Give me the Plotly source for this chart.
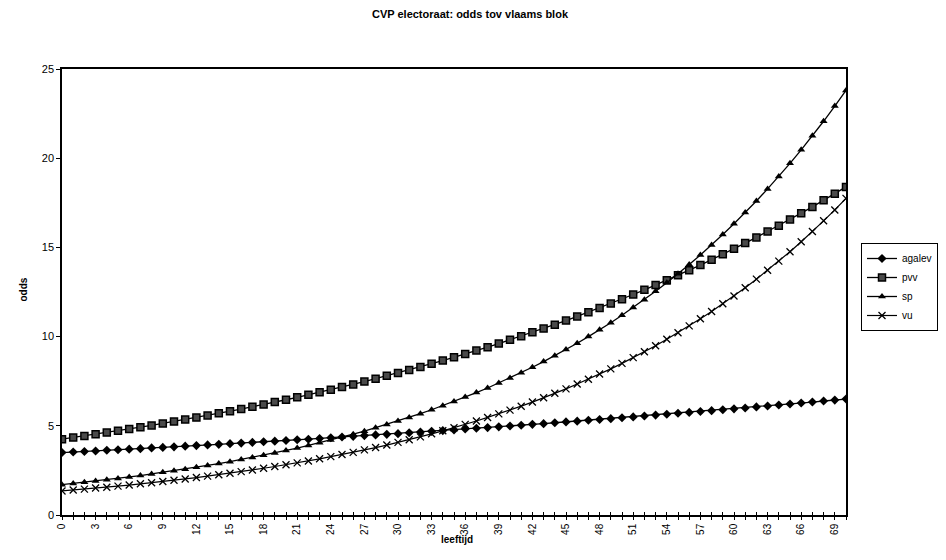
import plotly.graph_objects as go

leeftijd = list(range(0, 71))

agalev = [3.50, 3.53, 3.56, 3.59, 3.63, 3.66, 3.69, 3.72, 3.76, 3.79, 3.82,
          3.86, 3.89, 3.93, 3.96, 4.00, 4.03, 4.07, 4.11, 4.14, 4.18,
          4.22, 4.25, 4.29, 4.33, 4.37, 4.41, 4.45, 4.49, 4.52, 4.56,
          4.61, 4.65, 4.69, 4.73, 4.77, 4.82, 4.86, 4.90, 4.94, 4.99,
          5.03, 5.08, 5.12, 5.17, 5.22, 5.26, 5.31, 5.35, 5.40, 5.45,
          5.50, 5.55, 5.60, 5.65, 5.70, 5.75, 5.80, 5.85, 5.90, 5.95,
          6.00, 6.06, 6.11, 6.17, 6.22, 6.28, 6.33, 6.39, 6.44, 6.50]

pvv = [4.25, 4.34, 4.43, 4.53, 4.62, 4.72, 4.82, 4.92, 5.02, 5.13, 5.24,
       5.35, 5.46, 5.58, 5.70, 5.82, 5.94, 6.07, 6.19, 6.33, 6.46,
       6.60, 6.74, 6.88, 7.02, 7.17, 7.32, 7.48, 7.64, 7.80, 7.96,
       8.13, 8.30, 8.48, 8.66, 8.84, 9.03, 9.22, 9.41, 9.61, 9.82,
       10.02, 10.24, 10.45, 10.67, 10.90, 11.13, 11.37, 11.61, 11.85, 12.10,
       12.36, 12.62, 12.89, 13.16, 13.44, 13.72, 14.01, 14.31, 14.61, 14.92,
       15.24, 15.56, 15.89, 16.22, 16.57, 16.92, 17.27, 17.64, 18.01, 18.39]

sp = [1.70, 1.77, 1.83, 1.90, 1.98, 2.05, 2.13, 2.21, 2.30, 2.39, 2.48,
      2.57, 2.67, 2.78, 2.88, 2.99, 3.11, 3.23, 3.35, 3.48, 3.61,
      3.75, 3.90, 4.05, 4.20, 4.36, 4.53, 4.70, 4.89, 5.07, 5.27,
      5.47, 5.68, 5.90, 6.13, 6.36, 6.61, 6.86, 7.12, 7.40, 7.68,
      7.98, 8.28, 8.60, 8.93, 9.27, 9.63, 10.00, 10.38, 10.78, 11.20,
      11.63, 12.07, 12.54, 13.02, 13.52, 14.04, 14.58, 15.14, 15.72, 16.33,
      16.95, 17.60, 18.28, 18.98, 19.71, 20.47, 21.26, 22.07, 22.92, 23.80]

vu = [1.35, 1.40, 1.45, 1.51, 1.56, 1.62, 1.68, 1.75, 1.81, 1.88, 1.95,
      2.02, 2.10, 2.18, 2.26, 2.34, 2.43, 2.52, 2.62, 2.72, 2.82,
      2.92, 3.03, 3.15, 3.27, 3.39, 3.51, 3.65, 3.78, 3.92, 4.07,
      4.22, 4.38, 4.55, 4.72, 4.89, 5.08, 5.27, 5.47, 5.67, 5.88,
      6.10, 6.33, 6.57, 6.82, 7.07, 7.34, 7.61, 7.90, 8.19, 8.50,
      8.82, 9.15, 9.49, 9.85, 10.22, 10.60, 11.00, 11.41, 11.84, 12.28,
      12.74, 13.22, 13.72, 14.23, 14.76, 15.32, 15.89, 16.49, 17.10, 17.75]

x_ticks = list(range(0, 70, 3))
y_ticks = [0, 5, 10, 15, 20, 25]

FONT = "Liberation Sans, Arial, sans-serif"

# the page body has an 8px margin; size the figure so the page does not overflow
W, H = 930, 544
PL, PT, PR, PB = 54, 61, 838, 507  # plot area in figure pixels

fig = go.Figure()

fig.add_trace(go.Scatter(x=leeftijd, y=agalev, name="agalev", mode="lines+markers",
                         line=dict(color="black", width=1.3),
                         marker=dict(symbol="diamond", size=7, color="black")))
fig.add_trace(go.Scatter(x=leeftijd, y=pvv, name="pvv", mode="lines+markers",
                         line=dict(color="black", width=1.3),
                         marker=dict(symbol="square", size=7, color="#4a4a4a",
                                     line=dict(color="black", width=1.5))))
fig.add_trace(go.Scatter(x=leeftijd, y=sp, name="sp", mode="lines+markers",
                         line=dict(color="black", width=1.3),
                         marker=dict(symbol="triangle-up", size=7, color="black")))
fig.add_trace(go.Scatter(x=leeftijd, y=vu, name="vu", mode="lines+markers",
                         line=dict(color="black", width=1.2),
                         marker=dict(symbol="x-thin-open", size=7, color="black",
                                     line=dict(color="black", width=1.3))))

# helper trace on an overlaying axis so the x ticks cross the axis line
fig.add_trace(go.Scatter(x=[0, 70], y=[0, 0], xaxis="x2", mode="lines",
                         line=dict(width=0), showlegend=False, hoverinfo="skip"))

fig.update_layout(
    width=W, height=H,
    paper_bgcolor="white", plot_bgcolor="white",
    margin=dict(l=PL, r=W - PR, t=PT, b=H - PB, autoexpand=False),
    font=dict(family=FONT, size=11, color="black"),
    title=dict(text="<b>CVP electoraat: odds tov vlaams blok</b>",
               x=462 / W, xref="container", y=1 - 6 / H, yref="container",
               xanchor="center", yanchor="middle",
               font=dict(size=11, family=FONT, color="black")),
    showlegend=True,
    legend=dict(x=1.0, y=1 - 235 / H, xref="container", yref="container",
                xanchor="right", yanchor="top",
                bordercolor="black", borderwidth=1, bgcolor="white",
                font=dict(size=10, family=FONT), tracegroupgap=0,
                itemwidth=30),
    xaxis=dict(range=[0, 70], tickvals=x_ticks, ticktext=[str(v) for v in x_ticks],
               tickangle=-90, showgrid=False, zeroline=False, automargin=False,
               showline=True, linecolor="black", linewidth=1.5, mirror=True,
               ticks="outside", ticklen=3, tickcolor="black", tickwidth=1,
               minor=dict(dtick=1, ticks="outside", ticklen=3, tickcolor="black", showgrid=False),
               tickfont=dict(size=10)),
    xaxis2=dict(range=[0, 70], overlaying="x", side="bottom", showgrid=False,
                zeroline=False, showline=False, showticklabels=False,
                ticks="inside", ticklen=3, tickcolor="black", dtick=1, tick0=0),
    yaxis=dict(range=[0, 25], tickvals=y_ticks, showgrid=False, zeroline=False,
               automargin=False,
               showline=True, linecolor="black", linewidth=1.5, mirror=True,
               ticks="outside", ticklen=4, tickcolor="black",
               tickfont=dict(size=11)),
)

# axis titles placed at their pixel positions (figure coordinates)
fig.add_annotation(text="<b>odds</b>", x=(7 - PL) / (PR - PL), y=(PB - 282) / (PB - PT),
                   xref="paper", yref="paper", showarrow=False, textangle=-90,
                   font=dict(size=10, family=FONT))
fig.add_annotation(text="<b>leeftijd</b>", x=(449 - PL) / (PR - PL), y=(PB - 539) / (PB - PT),
                   xref="paper", yref="paper", showarrow=False,
                   font=dict(size=10, family=FONT))

fig.write_html("out.html")
